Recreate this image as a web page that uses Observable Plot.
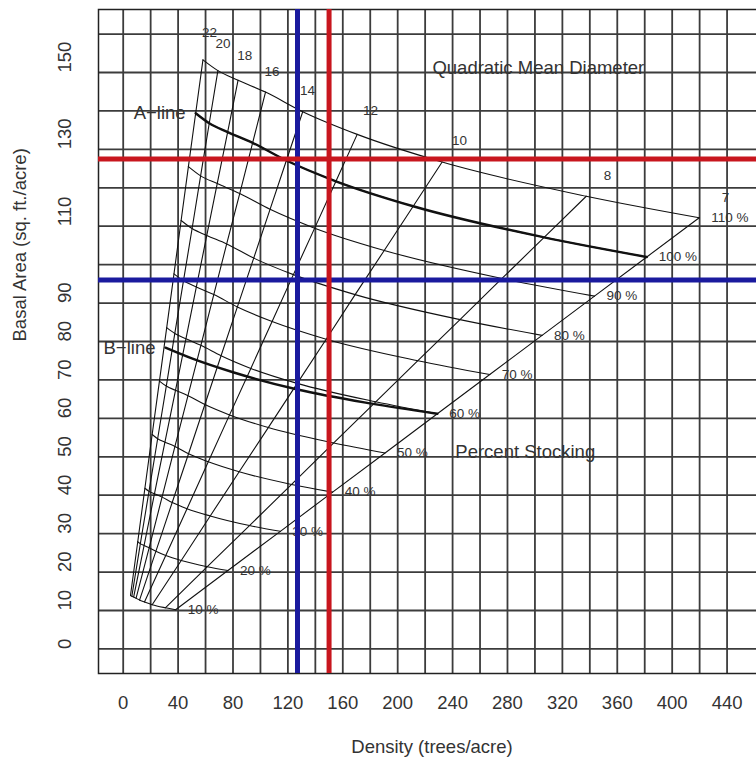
<!DOCTYPE html>
<html><head><meta charset="utf-8">
<script src="https://cdn.jsdelivr.net/npm/d3@7"></script>
<script src="https://cdn.jsdelivr.net/npm/@observablehq/plot@0.6"></script>
<style>
html,body{margin:0;padding:0;background:#fff;overflow:hidden;}
#chart svg{max-width:none !important;display:block;}
</style></head><body><div id="chart"></div>
<script>
// Quadratic mean diameter lines (inches), in column order
const qmd = [22, 20, 18, 16, 14, 12, 10, 8, 7];
// Percent stocking curves
const stockLevels = [10, 20, 30, 40, 50, 60, 70, 80, 90, 100, 110];
// trees/acre where each stocking curve meets each QMD line
const stockTPA = [
  [5.3, 6.3, 7.6, 9.4, 11.9, 15.5, 21.1, 30.7, 38.2],
  [10.6, 12.5, 15.2, 18.9, 23.8, 31.0, 42.3, 61.3, 76.3],
  [15.8, 18.8, 22.8, 28.3, 35.7, 46.5, 63.4, 92.0, 114.5],
  [21.1, 25.1, 30.4, 37.7, 47.6, 62.0, 84.5, 122.7, 152.6],
  [26.4, 31.4, 38.1, 47.2, 59.5, 77.5, 105.7, 153.4, 190.8],
  [31.7, 37.6, 45.7, 56.6, 71.3, 93.0, 126.8, 184.0, 228.9],
  [37.0, 43.9, 53.3, 66.0, 83.2, 108.5, 147.9, 214.7, 267.1],
  [42.2, 50.2, 60.9, 75.4, 95.1, 124.0, 169.0, 245.4, 305.2],
  [47.5, 56.4, 68.5, 84.9, 107.0, 139.5, 190.2, 276.0, 343.4],
  [52.8, 62.7, 76.1, 94.3, 118.9, 155.0, 211.3, 306.7, 381.5],
  [58.1, 69.0, 83.7, 103.7, 130.8, 170.5, 232.4, 337.4, 419.7]
];
// basal area (sq. ft./acre) at the same intersections
const stockBA = [
  [13.9, 13.7, 13.5, 13.2, 12.7, 12.2, 11.5, 10.7, 10.2],
  [27.9, 27.4, 26.9, 26.3, 25.4, 24.3, 23.0, 21.4, 20.4],
  [41.8, 41.0, 40.4, 39.5, 38.1, 36.5, 34.6, 32.1, 30.6],
  [55.8, 54.7, 53.8, 52.7, 50.8, 48.7, 46.1, 42.8, 40.8],
  [69.7, 68.4, 67.3, 65.9, 63.6, 60.9, 57.6, 53.6, 51.0],
  [83.6, 82.1, 80.7, 79.0, 76.3, 73.0, 69.1, 64.3, 61.2],
  [97.6, 95.8, 94.2, 92.2, 89.0, 85.2, 80.6, 75.0, 71.4],
  [111.5, 109.4, 107.6, 105.4, 101.7, 97.4, 92.2, 85.7, 81.6],
  [125.5, 123.1, 121.1, 118.5, 114.4, 109.5, 103.7, 96.4, 91.8],
  [139.4, 136.8, 134.5, 131.7, 127.1, 121.7, 115.2, 107.1, 102.0],
  [153.3, 150.5, 148.0, 144.9, 139.8, 133.9, 126.7, 117.8, 112.2]
];
// B-line
const bLineTPA = [30.8, 50, 80, 127, 180, 228.9];
const bLineBA = [78.4, 75.6, 72.0, 67.5, 63.9, 61.2];
// QMD label anchor points
const qmdLabelTPA = [62.9, 72.7, 88.5, 108.5, 134.3, 180.2, 245.0, 352.8, 438.8];
const qmdLabelBA = [160.3, 157.4, 154.4, 150.3, 145.3, 140.1, 132.3, 123.2, 117.5];
// annotations
const noteText = ["Quadratic Mean Diameter", "Percent Stocking"];
const noteTPA = [225.3, 242.0];
const noteBA = [151.2, 51.2];
// reference lines
const blueTPA = [127], blueBA = [96];
const redTPA = [150], redBA = [127.5];
// axes
const xTicks = [0, 40, 80, 120, 160, 200, 240, 280, 320, 360, 400, 440];
const yTicks = [0, 10, 20, 30, 40, 50, 60, 70, 80, 90, 110, 130, 150];
const xGrid = [0, 20, 40, 60, 80, 100, 120, 140, 160, 180, 200, 220, 240, 260, 280, 300, 320, 340, 360, 380, 400, 420, 440];
const yGrid = [0, 10, 20, 30, 40, 50, 60, 70, 80, 90, 100, 110, 120, 130, 140, 150, 160];
const xTitle = "Density (trees/acre)";
const yTitle = "Basal Area (sq. ft./acre)";

const rows = [];
stockLevels.forEach((s, i) => qmd.forEach((d, j) => rows.push({s, d, N: stockTPA[i][j], BA: stockBA[i][j]})));
const ends = stockLevels.map((s, i) => ({s, N: stockTPA[i][qmd.length - 1], BA: stockBA[i][qmd.length - 1]}));
const aRow = rows.filter(r => r.s === 100);
const bLine = bLineTPA.map((N, i) => ({N, BA: bLineBA[i]}));
const qmdLabels = qmd.map((d, i) => ({d, N: qmdLabelTPA[i], BA: qmdLabelBA[i]}));
const notes = noteText.map((t, i) => ({t, N: noteTPA[i], BA: noteBA[i]}));

const font = "Liberation Sans, Arial, Helvetica, sans-serif";
const txt = "#333";
const big = 18.5, small = 13.5;

const plot = Plot.plot({
  width: 768, height: 765,
  marginLeft: 98, marginRight: 3, marginTop: 9, marginBottom: 92,
  style: {fontFamily: font, background: "white"},
  x: {domain: [-18, 468], axis: null},
  y: {domain: [-6.4, 166.4], axis: null},
  marks: [
    Plot.ruleX(xGrid, {stroke: "#3c3c3c", strokeWidth: 1.8}),
    Plot.ruleY(yGrid, {stroke: "#3c3c3c", strokeWidth: 1.8}),
    Plot.frame({stroke: "#222", strokeWidth: 1.5}),
    Plot.line(rows, {x: "N", y: "BA", z: "d", stroke: "#111", strokeWidth: 1.1}),
    Plot.line(rows, {x: "N", y: "BA", z: "s", stroke: "#111", strokeWidth: 1.1, curve: "monotone-x"}),
    Plot.line(aRow, {x: "N", y: "BA", stroke: "#111", strokeWidth: 2.4, curve: "monotone-x"}),
    Plot.line(bLine, {x: "N", y: "BA", stroke: "#111", strokeWidth: 2.4, curve: "monotone-x"}),
    Plot.text(ends, {x: "N", y: "BA", text: d => d.s + " %", textAnchor: "start", dx: 12, fontSize: small, fill: txt}),
    Plot.text(qmdLabels, {x: "N", y: "BA", text: d => String(d.d), fontSize: small, fill: txt}),
    Plot.text(aRow.slice(0, 1), {x: "N", y: "BA", text: () => "A\u2212line", textAnchor: "end", dx: -10, fontSize: big, fill: txt}),
    Plot.text(bLine.slice(0, 1), {x: "N", y: "BA", text: () => "B\u2212line", textAnchor: "end", dx: -10, fontSize: big, fill: txt}),
    Plot.text(notes, {x: "N", y: "BA", text: "t", textAnchor: "start", fontSize: big, fill: txt}),
    Plot.ruleX(blueTPA, {stroke: "#1a1a9e", strokeWidth: 5}),
    Plot.ruleY(blueBA, {stroke: "#1a1a9e", strokeWidth: 5}),
    Plot.ruleX(redTPA, {stroke: "#c8161e", strokeWidth: 5}),
    Plot.ruleY(redBA, {stroke: "#c8161e", strokeWidth: 5}),
    Plot.text(xTicks, {x: d => d, text: d => String(d), frameAnchor: "bottom", dy: 35, fontSize: big, fill: txt}),
    Plot.text(yTicks, {y: d => d, text: d => String(d), frameAnchor: "left", dx: -33, rotate: -90, fontSize: big, fill: txt}),
    Plot.text([xTitle], {text: d => d, frameAnchor: "bottom", dy: 79, fontSize: big, fill: txt}),
    Plot.text([yTitle], {text: d => d, frameAnchor: "left", dx: -78, rotate: -90, fontSize: big, fill: txt})
  ]
});
document.getElementById("chart").appendChild(plot);
</script></body></html>
